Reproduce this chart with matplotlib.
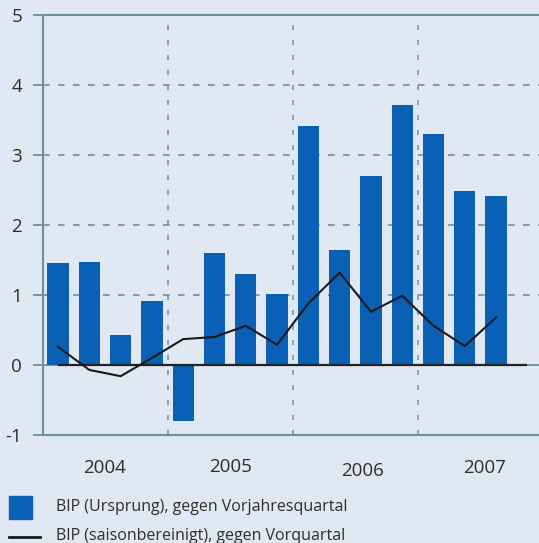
import matplotlib
matplotlib.use("Agg")
import matplotlib.pyplot as plt
from matplotlib.patches import Rectangle
from matplotlib.lines import Line2D

# Data
quarters = ["2004Q1", "2004Q2", "2004Q3", "2004Q4",
            "2005Q1", "2005Q2", "2005Q3", "2005Q4",
            "2006Q1", "2006Q2", "2006Q3", "2006Q4",
            "2007Q1", "2007Q2", "2007Q3"]
bip_yoy = [1.46, 1.47, 0.43, 0.91, -0.80, 1.60, 1.30, 1.01,
           3.41, 1.64, 2.70, 3.71, 3.30, 2.49, 2.41]
bip_qoq = [0.26, -0.07, -0.16, 0.10, 0.37, 0.40, 0.56, 0.29,
           0.88, 1.32, 0.76, 0.99, 0.56, 0.27, 0.68]
year_labels = ["2004", "2005", "2006", "2007"]
year_label_x = [1.49, 5.5, 9.74, 13.64]
year_label_y = [-1.47, -1.46, -1.51, -1.47]
yticks = [-1, 0, 1, 2, 3, 4, 5]
legend_labels = ["BIP (Ursprung), gegen Vorjahresquartal",
                 "BIP (saisonbereinigt), gegen Vorquartal"]

BG = "#dfe8f3"
BAR = "#0a60b4"
GRID = "#6f8f9c"
TXT = "#2e2e2e"
FONT = "Open Sans"
plt.rcParams["font.family"] = [FONT, "DejaVu Sans"]

W, H = 539, 543
fig = plt.figure(figsize=(W / 100, H / 100), dpi=100, facecolor=BG)
ax = fig.add_axes([43 / W, (H - 435) / H, (W - 43) / W, (435 - 15) / H])
ax.set_facecolor(BG)

x = list(range(len(quarters)))
ax.set_xlim(-0.48, 15.37)
ax.set_ylim(-1, 5)

# grid
for yv in [1, 2, 3, 4]:
    ax.axhline(yv, color=GRID, lw=1.2, ls=(0, (4, 5)), zorder=1)
for xv in [3.5, 7.5, 11.5]:
    ax.axvline(xv, color="#7898a8", lw=1.2, ls=(0, (3, 6)), zorder=1)
ax.axhline(0, color=GRID, lw=1.3, zorder=1)
ax.axhline(5, color=GRID, lw=1.5, zorder=1, clip_on=False)

ax.bar(x, bip_yoy, width=0.68, color=BAR, zorder=2)
ax.hlines(0, 0, 15, color="#222222", lw=1.6, zorder=3)
ax.plot(x, bip_qoq, color="#1a1a1a", lw=1.5, zorder=4)

for s in ["top", "right"]:
    ax.spines[s].set_visible(False)
for s in ["left", "bottom"]:
    ax.spines[s].set_color(GRID)
    ax.spines[s].set_linewidth(1.5)

ax.set_xticks([])
ax.set_yticks(yticks)
ax.set_yticklabels([str(v) for v in yticks], fontsize=13.5, color=TXT)
ax.tick_params(axis="y", length=7, width=1.3, color=GRID, pad=8)

for lab, xv, yv in zip(year_labels, year_label_x, year_label_y):
    ax.text(xv, yv, lab, ha="center", va="center", fontsize=13.5, color=TXT,
            clip_on=False)

# legend
fig.add_artist(Rectangle((9 / W, 1 - 519 / H), 23 / W, 23 / H,
                         transform=fig.transFigure, color=BAR))
fig.add_artist(Line2D([9 / W, 40 / W], [1 - 537 / H, 1 - 537 / H],
                      transform=fig.transFigure, color="#1a1a1a", lw=2))
fig.text(56 / W, 1 - 507 / H, legend_labels[0], fontsize=11.5, color=TXT,
         va="center", ha="left")
fig.text(56 / W, 1 - 536 / H, legend_labels[1], fontsize=11.5, color=TXT,
         va="center", ha="left")

fig.savefig("out.png", dpi=100, facecolor=BG)
